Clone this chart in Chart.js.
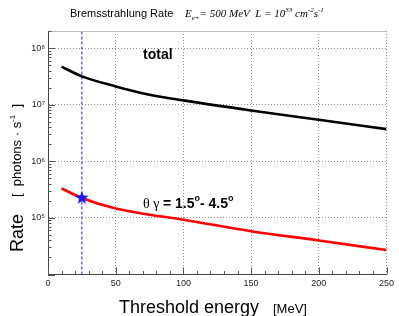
<!DOCTYPE html>
<html>
<head>
<meta charset="utf-8">
<script src="https://cdn.jsdelivr.net/npm/chart.js@4.4.0/dist/chart.umd.min.js"></script>
<style>
  html, body { margin: 0; padding: 0; background: #fff; }
</style>
</head>
<body>
<canvas id="myChart" width="399" height="316"></canvas>
<script>
// values
const energies  = [10, 25, 50, 75, 100, 150, 200, 250];          // MeV
const totalRate = [4.7e7, 3.16e7, 2.1e7, 1.5e7, 1.19e7, 7.9e6, 5.4e6, 3.7e6];
const angleRate = [3.3e5, 2.25e5, 1.46e5, 1.14e5, 9.3e4, 5.8e4, 4.0e4, 2.7e4];
const cutEnergy = 25;
const cutRate = 2.25e5;
const xMajor = [0, 50, 100, 150, 200, 250];
const yDecades = [1e5, 1e6, 1e7, 1e8];
const yRange = [1e4, 2e8];

const supDigits = { '0':'⁰','1':'¹','2':'²','3':'³','4':'⁴','5':'⁵','6':'⁶','7':'⁷','8':'⁸','9':'⁹' };

function toPoints(xs, ys) {
  return xs.map(function (x, i) { return { x: x, y: ys[i] }; });
}

// filled blue star marker
function makeStar(r, color) {
  const c = document.createElement('canvas');
  c.width = c.height = r * 2 + 2;
  const g = c.getContext('2d');
  g.fillStyle = color;
  g.beginPath();
  for (let i = 0; i < 10; i++) {
    const rad = i % 2 === 0 ? r : r * 0.42;
    const a = -Math.PI / 2 + i * Math.PI / 5;
    const px = r + 1 + rad * Math.cos(a), py = r + 1 + rad * Math.sin(a);
    if (i === 0) g.moveTo(px, py); else g.lineTo(px, py);
  }
  g.closePath();
  g.fill();
  return c;
}

function isDecade(v) {
  const l = Math.log10(v);
  return Math.abs(l - Math.round(l)) < 1e-9;
}

const rootDecor = {
  id: 'rootDecor',
  afterDraw: function (chart) {
    const ctx = chart.ctx;
    const xs = chart.scales.x, ys = chart.scales.y;
    const area = chart.chartArea;
    ctx.save();

    // top frame
    ctx.strokeStyle = '#bbb';
    ctx.lineWidth = 1;
    ctx.beginPath();
    ctx.moveTo(area.left, area.top + 0.5);
    ctx.lineTo(area.right, area.top + 0.5);
    ctx.stroke();

    // inward ticks
    ctx.strokeStyle = '#555';
    ctx.beginPath();
    for (let v = 0; v <= 250; v += 10) {
      const px = Math.round(xs.getPixelForValue(v)) + 0.5;
      const len = v % 50 === 0 ? 7 : 3.5;
      ctx.moveTo(px, area.bottom);
      ctx.lineTo(px, area.bottom - len);
    }
    ys.ticks.forEach(function (t) {
      const py = Math.round(ys.getPixelForValue(t.value)) + 0.5;
      const len = isDecade(t.value) ? 7 : 3.5;
      ctx.moveTo(area.left, py);
      ctx.lineTo(area.left + len, py);
    });
    ctx.stroke();

    ctx.fillStyle = '#000';
    ctx.textBaseline = 'alphabetic';

    // title
    ctx.font = '11px "Liberation Sans", Arial, sans-serif';
    ctx.fillText('Bremsstrahlung Rate', 70, 17);
    let x = 185;
    const put = function (txt, font, dy) {
      ctx.font = font;
      ctx.fillText(txt, x, 17 + dy);
      x += ctx.measureText(txt).width;
    };
    const big = 'italic 11px "Liberation Serif", "Times New Roman", serif';
    const small = 'italic 7px "Liberation Serif", "Times New Roman", serif';
    put('E', big, 0);
    put('e+', small, 3);
    put('= 500 MeV  L = 10', big, 0);
    put('33', small, -5);
    put(' cm', big, 0);
    put('-2', small, -5);
    put('s', big, 0);
    put('-1', small, -5);

    // x axis title
    ctx.font = '18px "Liberation Sans", Arial, sans-serif';
    ctx.fillText('Threshold energy', 119, 313);
    ctx.font = '13px "Liberation Sans", Arial, sans-serif';
    ctx.fillText('[MeV]', 273, 313);

    // y axis title (rotated)
    ctx.save();
    ctx.translate(23, 0);
    ctx.rotate(-Math.PI / 2);
    ctx.font = '18px "Liberation Sans", Arial, sans-serif';
    ctx.fillText('Rate', -252, 0);
    let yx = -197;
    const putV = function (txt, font, dy) {
      ctx.font = font;
      ctx.fillText(txt, yx, -2 + dy);
      yx += ctx.measureText(txt).width;
    };
    putV('[  photons · s', '13px "Liberation Sans", Arial, sans-serif', 0);
    putV('-1', '8px "Liberation Sans", Arial, sans-serif', -6);
    putV('  ]', '13px "Liberation Sans", Arial, sans-serif', 0);
    ctx.restore();

    // curve labels
    ctx.font = 'bold 14px "Liberation Sans", Arial, sans-serif';
    ctx.fillText('total', 143, 59);

    let lx = 143;
    const putL = function (txt, font, dy) {
      ctx.font = font;
      ctx.fillText(txt, lx, 208 + dy);
      lx += ctx.measureText(txt).width;
    };
    putL('θ γ ', '14px "Liberation Serif", "Times New Roman", serif', 0);
    putL('= 1.5', 'bold 14px "Liberation Sans", Arial, sans-serif', 0);
    putL('o', 'bold 9px "Liberation Sans", Arial, sans-serif', -7);
    putL('- 4.5', 'bold 14px "Liberation Sans", Arial, sans-serif', 0);
    putL('o', 'bold 9px "Liberation Sans", Arial, sans-serif', -7);

    ctx.restore();
  }
};

const myChartElem = document.getElementById('myChart').getContext('2d');
const myChart = new Chart(myChartElem, {
  type: 'line',
  data: {
    datasets: [
      {
        label: 'cut',
        data: toPoints([cutEnergy, cutEnergy], yRange),
        borderColor: '#1a1aff',
        borderWidth: 1,
        borderDash: [3, 2],
        pointRadius: 0,
        order: 3
      },
      {
        label: 'total',
        data: toPoints(energies, totalRate),
        borderColor: '#000',
        borderWidth: 2.6,
        pointRadius: 0,
        cubicInterpolationMode: 'monotone',
        order: 2
      },
      {
        label: 'theta gamma',
        data: toPoints(energies, angleRate),
        borderColor: '#ff0000',
        borderWidth: 2.6,
        pointRadius: 0,
        cubicInterpolationMode: 'monotone',
        order: 2
      },
      {
        label: 'marker',
        data: [{ x: cutEnergy, y: cutRate }],
        showLine: false,
        pointStyle: makeStar(7, '#1515ff'),
        pointRadius: 7,
        order: 1
      }
    ]
  },
  options: {
    responsive: false,
    animation: false,
    layout: { padding: { left: 0, top: 31, right: 12.5, bottom: 0 } },
    plugins: {
      legend: { display: false },
      tooltip: { enabled: false }
    },
    scales: {
      x: {
        type: 'linear',
        min: 0,
        max: 250,
        afterFit: function (scale) { scale.height = 41.5; },
        afterBuildTicks: function (scale) {
          scale.ticks = xMajor.map(function (v) { return { value: v }; });
        },
        ticks: {
          autoSkip: false,
          maxRotation: 0,
          padding: 4,
          color: '#222',
          font: { family: '"Liberation Sans", Arial, sans-serif', size: 9 }
        },
        grid: {
          drawTicks: false,
          color: function (c) { return c.tick && c.tick.value > 0 ? '#8c8c8c' : 'transparent'; },
          lineWidth: 1
        },
        border: { display: true, color: '#444', width: 1, dash: [1, 2] }
      },
      y: {
        type: 'logarithmic',
        min: yRange[0],
        max: yRange[1],
        afterFit: function (scale) { scale.width = 48; },
        afterBuildTicks: function (scale) {
          const t = [];
          for (let d = 1e4; d <= yRange[1]; d *= 10) {
            for (let m = 1; m <= 9; m++) {
              const v = m * d;
              if (v <= yRange[1]) t.push({ value: v });
            }
          }
          scale.ticks = t;
        },
        ticks: {
          autoSkip: false,
          padding: 3,
          color: '#222',
          font: { family: '"Liberation Sans", Arial, sans-serif', size: 9 },
          callback: function (v) {
            if (yDecades.indexOf(v) < 0) return '';
            const e = String(Math.round(Math.log10(v)));
            return '10' + e.split('').map(function (c) { return supDigits[c]; }).join('');
          }
        },
        grid: {
          drawTicks: false,
          color: function (c) { return c.tick && yDecades.indexOf(c.tick.value) >= 0 ? '#8c8c8c' : 'transparent'; },
          lineWidth: 1
        },
        border: { display: true, color: '#444', width: 1, dash: [1, 2] }
      }
    }
  },
  plugins: [rootDecor]
});
</script>
</body>
</html>
